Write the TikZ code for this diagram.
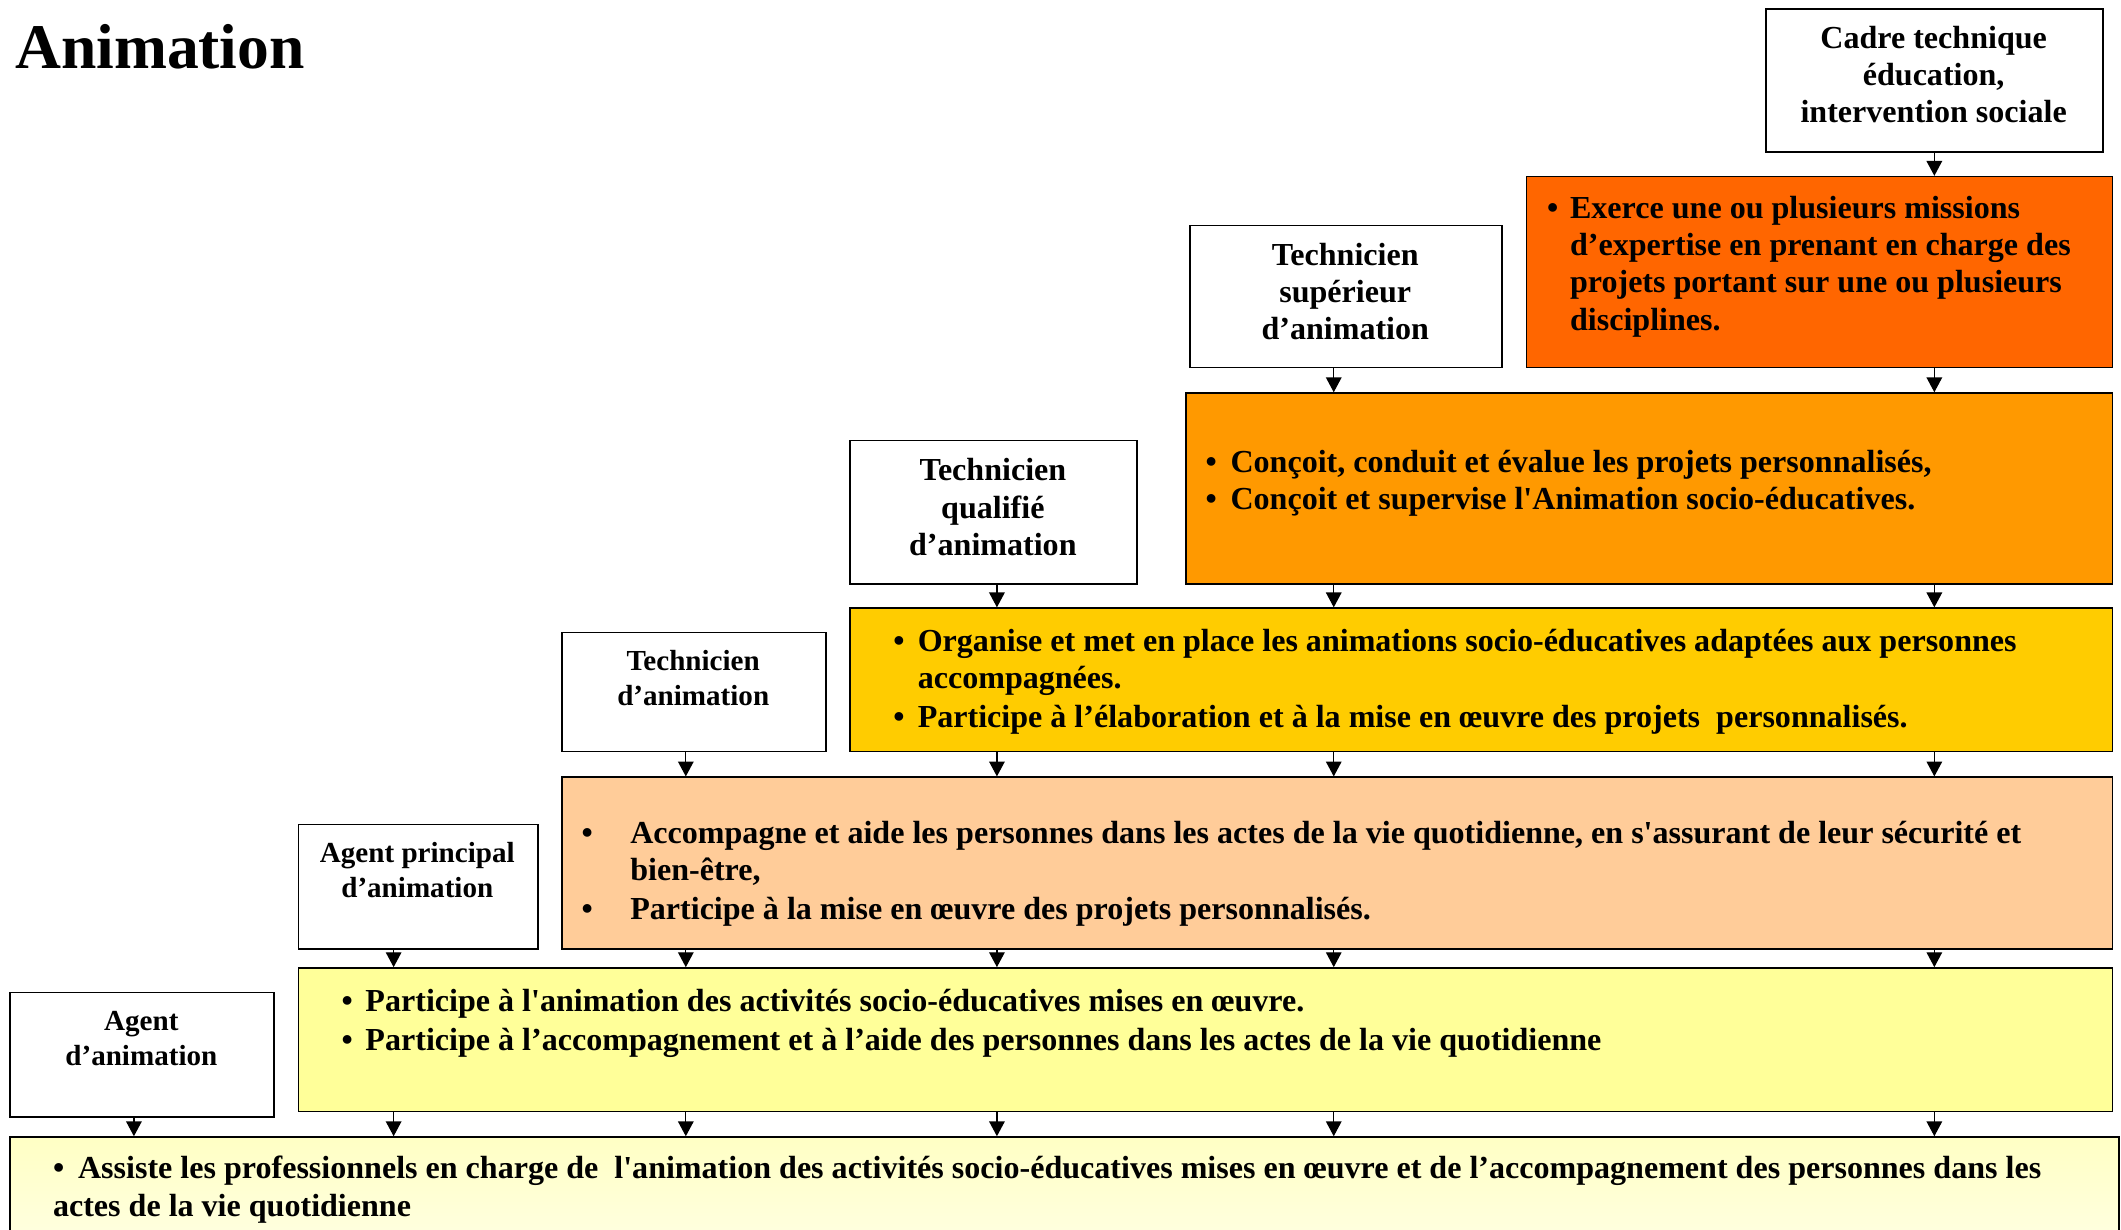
\documentclass[tikz,border=0pt]{standalone}
\usepackage{fontspec}
\setmainfont{Liberation Serif}[Ligatures=TeXOff]
\usetikzlibrary{arrows.meta}

\definecolor{fondcadre}{HTML}{FF6600}
\definecolor{fondtsup}{HTML}{FF9900}
\definecolor{fondtqual}{HTML}{FFCC00}
\definecolor{fondtech}{HTML}{FFCC99}
\definecolor{fondagp}{HTML}{FFFF99}
\definecolor{fondagent}{HTML}{FFFFC4}

\newcommand{\puce}[1]{\makebox[#1][l]{\textbullet}}
\newcommand{\retrait}[1]{\makebox[#1]{}}

\begin{document}
\begin{tikzpicture}[x=1pt, y=-1pt,
    boite/.style={draw=black, line width=1.2pt, inner sep=0pt, anchor=north west},
    titre/.style={anchor=base, align=center, inner sep=0pt, font=\bfseries\fontsize{23.7}{27.5}\selectfont},
    petit/.style={font=\bfseries\fontsize{21.5}{26}\selectfont},
    texte/.style={anchor=base west, align=left, inner sep=0pt, font=\bfseries\fontsize{23.7}{27.5}\selectfont},
    fleche/.style={line width=1pt, -{Triangle[length=11pt,width=11.5pt]}}]
    \useasboundingbox (0,0) rectangle (1568,909);

    \node[anchor=base west, inner sep=0pt, font=\bfseries\fontsize{47}{50}\selectfont] (anim) at (11,50.5) {Animation};

    \node[boite, minimum width=249pt, minimum height=106pt] (cadre) at (1305,6) {};
    \node[boite, fill=fondcadre, minimum width=433pt, minimum height=141pt] (mcadre) at (1128,130) {};
    \node[boite, minimum width=231pt, minimum height=105pt] (tsup) at (879,166) {};
    \node[boite, fill=fondtsup, minimum width=685pt, minimum height=141pt] (mtsup) at (876,290) {};
    \node[boite, minimum width=212pt, minimum height=106pt] (tqual) at (628,325) {};
    \node[boite, fill=fondtqual, minimum width=933pt, minimum height=106pt] (mtqual) at (628,449) {};
    \node[boite, minimum width=195pt, minimum height=88pt] (tech) at (415,467) {};
    \node[boite, fill=fondtech, minimum width=1146pt, minimum height=127pt] (mtech) at (415,574) {};
    \node[boite, minimum width=177pt, minimum height=92pt] (agp) at (220,609) {};
    \node[boite, fill=fondagp, minimum width=1341pt, minimum height=106pt] (magp) at (220,715) {};
    \node[boite, minimum width=195pt, minimum height=92pt] (agent) at (7,733) {};
    \node[boite, top color=fondagent, bottom color=white, minimum width=1559pt, minimum height=160pt] (magent) at (7,840) {};

    \node[titre] (cadre-t) at (1429.5,90.5) {Cadre technique\\éducation,\\intervention sociale};
    \node[titre] (tsup-t) at (994.5,251) {Technicien\\supérieur\\d’animation};
    \node[titre] (tqual-t) at (734,410.5) {Technicien\\qualifié\\d’animation};
    \node[titre, petit] (tech-t) at (512.5,521.5) {Technicien\\d’animation};
    \node[titre, petit] (agp-t) at (308.5,663.5) {Agent principal\\d’animation};
    \node[titre, petit] (agent-t) at (104.5,788) {Agent\\d’animation};

    \node[texte] (mcadre-t) at (1143.5,244) {\puce{17pt}Exerce une ou plusieurs missions\\
        \retrait{17pt}d’expertise en prenant en charge des\\
        \retrait{17pt}projets portant sur une ou plusieurs\\
        \retrait{17pt}disciplines.};
    \node[texte] (mtsup-t) at (891,377) {\puce{18.5pt}Conçoit, conduit et évalue les projets personnalisés,\\
        \puce{18.5pt}Conçoit et supervise l'Animation socio-éducatives.};
    \node[texte] (mtqual-t) at (660.3,538) {\puce{18pt}Organise et met en place les animations socio-éducatives adaptées aux personnes\\
        \retrait{18pt}accompagnées.\\[1.5pt]
        \puce{18pt}Participe à l’élaboration et à la mise en œuvre des projets\ \ personnalisés.};
    \node[texte] (mtech-t) at (429.8,680) {\puce{36pt}Accompagne et aide les personnes dans les actes de la vie quotidienne, en s'assurant de leur sécurité et\\
        \retrait{36pt}bien-être,\\[1.5pt]
        \puce{36pt}Participe à la mise en œuvre des projets personnalisés.};
    \node[texte] (magp-t) at (252.4,776.5) {\puce{17.6pt}Participe à l'animation des activités socio-éducatives mises en œuvre.\\[1.5pt]
        \puce{17.6pt}Participe à l’accompagnement et à l’aide des personnes dans les actes de la vie quotidienne};
    \node[texte] (magent-t) at (39,899) {\puce{18.5pt}Assiste les professionnels en charge de\ \ l'animation des activités socio-éducatives mises en œuvre et de l’accompagnement des personnes dans les\\
        actes de la vie quotidienne};

    \coordinate (k1) at (99,0);
    \coordinate (k2) at (291,0);
    \coordinate (k3) at (507,0);
    \coordinate (k4) at (737,0);
    \coordinate (k5) at (986,0);
    \coordinate (k6) at (1430,0);

    \draw[fleche] (cadre.south -| k6) -- (mcadre.north -| k6);
    \draw[fleche] (tsup.south -| k5) -- (mtsup.north -| k5);
    \draw[fleche] (mcadre.south -| k6) -- (mtsup.north -| k6);
    \draw[fleche] (tqual.south -| k4) -- (mtqual.north -| k4);
    \draw[fleche] (mtsup.south -| k5) -- (mtqual.north -| k5);
    \draw[fleche] (mtsup.south -| k6) -- (mtqual.north -| k6);
    \draw[fleche] (tech.south -| k3) -- (mtech.north -| k3);
    \draw[fleche] (mtqual.south -| k4) -- (mtech.north -| k4);
    \draw[fleche] (mtqual.south -| k5) -- (mtech.north -| k5);
    \draw[fleche] (mtqual.south -| k6) -- (mtech.north -| k6);
    \draw[fleche] (agp.south -| k2) -- (magp.north -| k2);
    \draw[fleche] (mtech.south -| k3) -- (magp.north -| k3);
    \draw[fleche] (mtech.south -| k4) -- (magp.north -| k4);
    \draw[fleche] (mtech.south -| k5) -- (magp.north -| k5);
    \draw[fleche] (mtech.south -| k6) -- (magp.north -| k6);
    \draw[fleche] (agent.south -| k1) -- (magent.north -| k1);
    \draw[fleche] (magp.south -| k2) -- (magent.north -| k2);
    \draw[fleche] (magp.south -| k3) -- (magent.north -| k3);
    \draw[fleche] (magp.south -| k4) -- (magent.north -| k4);
    \draw[fleche] (magp.south -| k5) -- (magent.north -| k5);
    \draw[fleche] (magp.south -| k6) -- (magent.north -| k6);
\end{tikzpicture}
\end{document}
